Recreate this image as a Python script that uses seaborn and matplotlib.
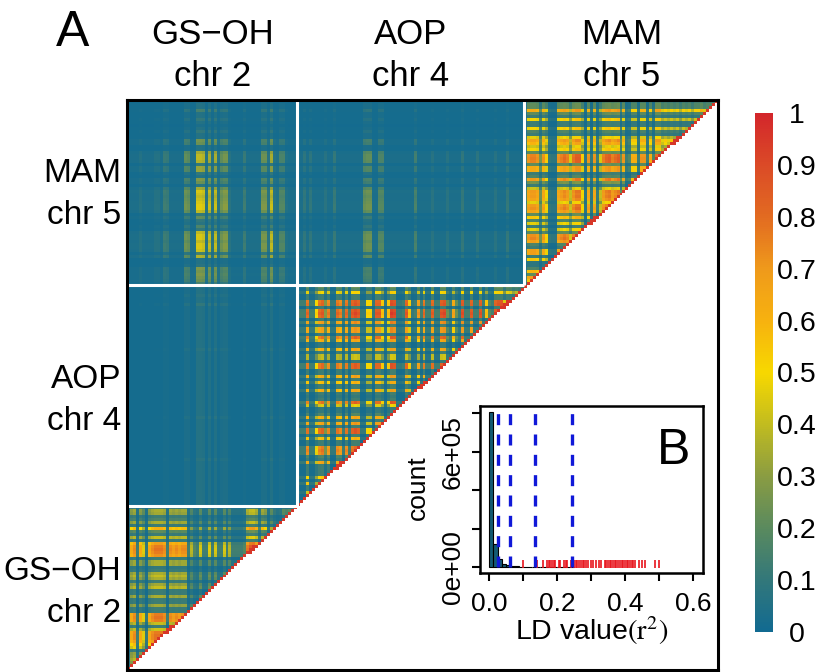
"""
LD heatmap of three glucosinolate loci with an inset histogram of r2 values.
Every list below was read by eye off the figure, one entry per 3 px strip.
"""

import numpy as np
import matplotlib
matplotlib.use("Agg")
import matplotlib.pyplot as plt
from matplotlib.colors import LinearSegmentedColormap
import seaborn as sns

# ── DATA: WITHIN-LOCUS LOADINGS ───────────────────────────────────────────────

GS_COLS = [.15, .7, .8, .15, .7, .5, .12, .7, .8, .85,
           .85, .85, .8, .15, .8, .75, .8, .75, .8, .8,
           .15, .42, .2, .15, .48, .15, .15, .5, .15, .48,
           .15, .15, .48, .15, .42, .15, .15, .15, .15, .2,
           .85, .95, .97, .85, .25, .8, .7, .15, .5, .25,
           .15, .2, .48, .4, .48, .6, .6]
GS_ROWS = [.15, .42, .4, .15, .2, .42, .15, .72, .25, .15,
           .48, .15, .8, .9, .92, .9, .85, .15, .42, .42,
           .12, .15, .42, .48, .42, .15, .4, .48, .15, .15,
           .42, .15, .15, .4, .15, .15, .9, .92, .9, .48,
           .15, .5, .9, .92, .92, .85, .72, .6, .15, .4,
           .42, .48, .4, .48, .48]

AOP_COLS = [.15, .15, .15, .85, .15, .15, .55, .85, .9, .3,
            .8, .12, .12, .85, .8, .15, .85, .15, .9, .95,
            .9, .12, .12, .55, .55, .12, .9, .9, .6, .12,
            .6, .98, .95, .12, .12, .15, .9, .6, .12, .15,
            .75, .15, .85, .15, .15, .88, .15, .15, .92, .95,
            .25, .15, .7, .25, .12, .93, .15, .15, .9, .15,
            .15, .92, .15, .6, .2, .15, .9, .95, .95, .5,
            .85, .8, .6, .7, .6, .5]
AOP_ROWS = [.25, .2, .55, .15, .15, .9, .92, .15, .93, .97,
            .93, .15, .78, .15, .75, .75, .15, .88, .7, .12,
            .12, .7, .15, .45, .45, .12, .9, .9, .15, .15,
            .72, .15, .65, .15, .15, .7, .15, .12, .15, .88,
            .5, .12, .12, .2, .7, .15, .75, .15, .92, .92,
            .15, .65, .15, .15, .85, .88, .85, .2, .15, .75,
            .15, .15, .15, .15, .6, .15, .65, .15, .15, .5,
            .15, .15, .15, .15]

MAM_COLS = [.2, .8, .85, .85, .8, .3, .8, .6, .12, .1,
            .1, .8, .85, .9, .85, .5, .88, .95, .95, .6,
            .1, .8, .12, .8, .15, .5, .85, .92, .95, .85,
            .9, .95, .25, .8, .15, .2, .7, .7, .15, .8,
            .8, .15, .7, .2, .9, .9, .6, .7, .6, .7,
            .6, .7, .5, .7, .6, .7, .5, .7, .7, .8,
            .6, .7, .7, .6, .6]
MAM_ROWS = [.2, .25, .25, .75, .25, .15, .6, .15, .15, .6,
            .2, .15, .55, .78, .7, .5, .6, .25, .88, .9,
            .88, .25, .75, .75, .15, .2, .82, .3, .15, .5,
            .82, .8, .82, .78, .55, .82, .85, .78, .25, .65,
            .2, .55, .15, .55, .25, .85, .88, .8, .2, .15,
            .8, .8, .15, .65, .1, .1, .2, .7, .25, .8,
            .7, .6]

# ── DATA: BETWEEN-LOCUS LOADINGS ──────────────────────────────────────────────

GS_X_COLS = [.06, .06, .06, .06, .12, .06, .06, .06, .06, .12,
             .12, .06, .28, .25, .06, .06, .06, .06, .06, .55,
             .5, .1, .1, 1.0, 1.0, .95, .15, .9, .15, .9,
             .15, .55, .65, .65, .15, .07, .07, .07, .07, .28,
             .07, .07, .07, .07, .07, .6, .6, .15, .9, .15,
             .1, .4, .4, .1, .07, .07, .07]
AOP_X_COLS = [.06, .06, .2, .06, .2, .06, .06, .06, .06, .15,
              .06, .06, .25, .06, .06, .06, .06, .06, .06, .06,
              .06, .06, .5, .55, .55, .06, .06, .42, .42, .06,
              .06, .06, .06, .06, .06, .06, .06, .06, .06, .35,
              .06, .06, .06, .06, .06, .15, .06, .06, .06, .06,
              .15, .06, .06, .06, .06, .22, .06, .06, .06, .06,
              .18, .06, .06, .06, .06, .06, .15, .06, .06, .06,
              .22, .06, .06, .06, .06, .06]
MAM_X_ROWS = [.05, .1, .1, .3, .1, .1, .2, .1, .05, .1,
              .2, .1, .1, .55, .5, .1, .1, .75, .85, .85,
              .8, .2, .7, .7, .2, .1, .6, .5, .15, .75,
              .95, .9, .85, .9, .95, 1.0, 1.0, .85, .2, .45,
              .2, .15, .35, .2, .85, .95, .95, .85, .95, .95,
              .9, .3, .8, .1, .1, .15, .6, .55, .6, .55,
              .5, .3]
AOP_X_ROWS = [.1, .1, .1, .15, .1, .1, .2, .1, .1, .1,
              .1, .1, .1, .1, .1, .1, .1, .1, .1, .1,
              .1, .15, .1, .1, .1, .1, .1, .1, .1, .1,
              .1, .1, .1, .1, .1, .1, .1, .1, .1, .1,
              .1, .1, .1, .1, .15, .1, .1, .1, .1, .1,
              .1, .1, .1, .1, .1, .1, .1, .1, .15, .1,
              .1, .1, .1, .1, .1, .1, .1, .1, .1, .1,
              .1, .1, .1, .1]

# ── DATA: INSET ───────────────────────────────────────────────────────────────

HIST_EDGES = [0, .0125, .025, .0375, .05, .0625, .075, .0875, .1, .125, .15, .2, .25]
HIST_COUNTS = [805000, 118000, 43000, 17000, 9000, 5000, 3000, 2000, 1500, 1000, 800, 500]
RUG_VALUES = [.1, .14, .16, .17, .175, .18, .185, .19, .195, .205, .21, .22, .225, .23, .24,
              .25, .255, .26, .265, .27, .275, .28, .285, .29, .3, .305, .315, .325, .33, .34,
              .345, .35, .355, .36, .365, .37, .375, .38, .385, .39, .395, .4, .405, .41,
              .415, .42, .425, .43, .44, .45, .46, .49, .5]
CUTOFFS = [.027, .06, .134, .243]

CBAR_TICKS = [0, .1, .2, .3, .4, .5, .6, .7, .8, .9, 1]
CBAR_COLOURS = ['#116a91', '#33787a', '#5a8a5e', '#8a9c42', '#c2bc1f', '#f7d800',
                '#f7b20f', '#ef9a1b', '#e26b21', '#db4b27', '#d3262b']

# ── BUILD MATRIX ──────────────────────────────────────────────────────────────

n_mam_r, n_aop_r = len(MAM_ROWS), len(AOP_ROWS)
n_gs_c, n_aop_c = len(GS_COLS), len(AOP_COLS)
n_rows = n_mam_r + n_aop_r + len(GS_ROWS)
n_cols = n_gs_c + n_aop_c + len(MAM_COLS)
r_aop = n_mam_r + n_aop_r
c_aop = n_gs_c + n_aop_c

ld = np.zeros((n_rows, n_cols))
ld[:n_mam_r, :n_gs_c] = .01 + .45 * np.outer(MAM_X_ROWS, GS_X_COLS)
ld[:n_mam_r, n_gs_c:c_aop] = .01 + .45 * np.outer(MAM_X_ROWS, AOP_X_COLS)
ld[n_mam_r:r_aop, :n_gs_c] = .01 + .45 * np.outer(AOP_X_ROWS, GS_X_COLS)
ld[:n_mam_r, c_aop:] = np.outer(MAM_ROWS, MAM_COLS)
ld[n_mam_r:r_aop, n_gs_c:c_aop] = np.outer(AOP_ROWS, AOP_COLS)
ld[r_aop:, :n_gs_c] = np.outer(GS_ROWS, GS_COLS)

# hide everything under the diagonal, the diagonal itself is close to r2 = 1
x_frac = (np.arange(n_cols) + .5) / n_cols
y_frac = 1 - (np.arange(n_rows) + .5) / n_rows
xx, yy = np.meshgrid(x_frac, y_frac)
ld[np.abs(yy - xx) < .0028] = .95
mask = yy < xx - .0028

# ── PLOT ──────────────────────────────────────────────────────────────────────

W, H = 816, 672
sns.set_theme(style='white')
plt.rcParams['font.family'] = ['Liberation Sans', 'DejaVu Sans']
plt.rcParams['mathtext.fontset'] = 'stix'


def px_axes(fig, left, top, right, bottom):
    return fig.add_axes([left / W, 1 - bottom / H, (right - left) / W, (bottom - top) / H])


def px_text(fig, x, y, s, size, ha='center', **kw):
    fig.text(x / W, 1 - y / H, s, fontsize=size, ha=ha, va='center', color='black', **kw)


fig = plt.figure(figsize=(W / 100, H / 100), dpi=100)
ax = px_axes(fig, 127, 100, 718, 670)
cax = px_axes(fig, 755, 113, 773, 632)

cmap = LinearSegmentedColormap.from_list('ld', CBAR_COLOURS)
sns.heatmap(ld, mask=mask, cmap=cmap, vmin=0, vmax=1, ax=ax, cbar_ax=cax,
            xticklabels=False, yticklabels=False, cbar_kws={'ticks': CBAR_TICKS})
ax.set_facecolor('white')
for side in ax.spines.values():
    side.set_visible(True)
    side.set_color('black')
    side.set_linewidth(2.2)

# white block separators
ax.vlines(n_gs_c, 0, r_aop, color='white', lw=2.2)
ax.vlines(c_aop, 0, n_mam_r, color='white', lw=2.2)
ax.hlines(n_mam_r, 0, c_aop, color='white', lw=2.2)
ax.hlines(r_aop, 0, n_gs_c, color='white', lw=2.2)

cax.tick_params(length=0, labelsize=20.5, pad=17, colors='black')
cax.set_yticklabels(['%g' % t for t in CBAR_TICKS])
for lab in cax.get_yticklabels():
    lab.set_ha('center')
ax.collections[0].colorbar.outline.set_visible(False)

# ── LABELS ────────────────────────────────────────────────────────────────────

px_text(fig, 73, 33, 'A', 36)
for x, name, chrom in [(213, 'GS\u2212OH', 'chr 2'), (411, 'AOP', 'chr 4'), (622, 'MAM', 'chr 5')]:
    px_text(fig, x, 35, name, 25)
    px_text(fig, x, 77, chrom, 25)
for y, name, chrom in [(173, 'MAM', 'chr 5'), (380, 'AOP', 'chr 4'), (571, 'GS\u2212OH', 'chr 2')]:
    px_text(fig, 121, y, name, 24, ha='right')
    px_text(fig, 121, y + 42, chrom, 24, ha='right')

# ── INSET ─────────────────────────────────────────────────────────────────────

inset = px_axes(fig, 480, 406, 703, 573)
sns.histplot(x=HIST_EDGES[:-1], weights=HIST_COUNTS, bins=HIST_EDGES, color='#135a73',
             alpha=1, edgecolor='black', linewidth=.8, ax=inset)
inset.vlines(RUG_VALUES, -4000, 35000, color='#e8141c', lw=1.2)
inset.vlines(CUTOFFS, 0, 800000, color='#1018d8', lw=2.4, linestyles=(0, (3.3, 2.8)), zorder=5)
inset.set_xlim(-.027, .63)
inset.set_ylim(-31000, 838000)
inset.set_xticks([0, .1, .2, .3, .4, .5, .6], ['0.0', '', '0.2', '', '0.4', '', '0.6'])
inset.set_yticks([0, 200000, 400000, 600000, 800000], ['0e+00', '', '', '6e+05', ''])
inset.tick_params(length=6, width=1.5, labelsize=19, colors='black', bottom=True, left=True)
inset.tick_params(axis='x', pad=8)
inset.tick_params(axis='y', pad=5)
for lab in inset.get_yticklabels():
    lab.set_rotation(90)
    lab.set_va('center')
inset.set_xlabel('')
inset.set_ylabel('')
for side in inset.spines.values():
    side.set_visible(True)
    side.set_color('black')
    side.set_linewidth(1.8)

px_text(fig, 674, 451, 'B', 36)
px_text(fig, 418, 488, 'count', 19, rotation=90)
px_text(fig, 592, 631, r'LD value$\mathrm{(r^2)}$', 20.5)

plt.savefig('out.png', dpi=100)
